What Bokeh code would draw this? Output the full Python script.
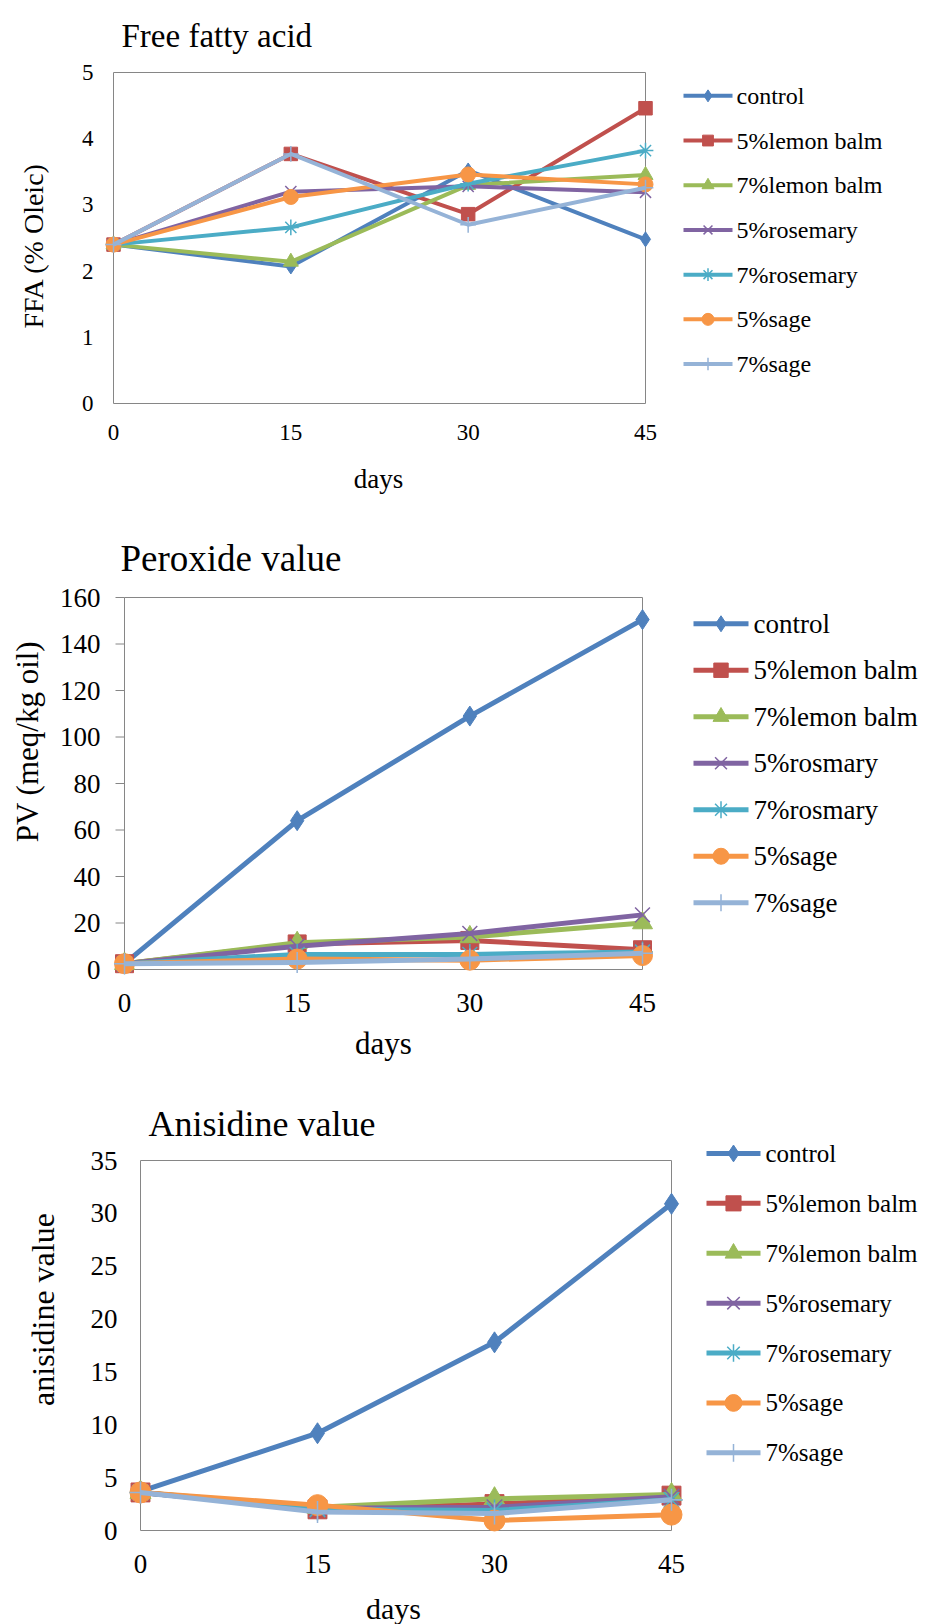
import math
from bokeh.plotting import figure
from bokeh.models import Range1d, Label
from bokeh.layouts import column
from bokeh.embed import file_html
from bokeh.resources import INLINE

# ---------------- data ----------------
days = [0, 15, 30, 45]
x_ticks = [0, 15, 30, 45]

names_ffa = ["control", "5%lemon balm", "7%lemon balm", "5%rosemary", "7%rosemary", "5%sage", "7%sage"]
names_pv = ["control", "5%lemon balm", "7%lemon balm", "5%rosmary", "7%rosmary", "5%sage", "7%sage"]
names_av = ["control", "5%lemon balm", "7%lemon balm", "5%rosemary", "7%rosemary", "5%sage", "7%sage"]

ffa_control = [2.40, 2.07, 3.52, 2.48]
ffa_lemon5 = [2.40, 3.77, 2.86, 4.46]
ffa_lemon7 = [2.40, 2.14, 3.30, 3.45]
ffa_rosemary5 = [2.40, 3.20, 3.28, 3.19]
ffa_rosemary7 = [2.40, 2.66, 3.32, 3.82]
ffa_sage5 = [2.40, 3.12, 3.46, 3.31]
ffa_sage7 = [2.40, 3.77, 2.70, 3.26]

pv_control = [2.5, 64, 109, 150.5]
pv_lemon5 = [2.5, 11, 12.5, 8.5]
pv_lemon7 = [2.5, 11.5, 14, 20]
pv_rosemary5 = [2.5, 10, 15.5, 23.5]
pv_rosemary7 = [2.5, 6.5, 6.5, 7.5]
pv_sage5 = [2.5, 4.5, 4, 6]
pv_sage7 = [2.5, 3, 4.5, 7]

av_control = [3.7, 9.2, 17.8, 30.9]
av_lemon5 = [3.6, 2.0, 2.5, 3.3]
av_lemon7 = [3.6, 2.2, 3.0, 3.4]
av_rosemary5 = [3.6, 2.1, 2.2, 3.2]
av_rosemary7 = [3.6, 2.0, 1.9, 2.9]
av_sage5 = [3.6, 2.4, 0.95, 1.5]
av_sage7 = [3.6, 1.75, 1.6, 2.9]

ffa_ticks = [0, 1, 2, 3, 4, 5]
pv_ticks = [0, 20, 40, 60, 80, 100, 120, 140, 160]
av_ticks = [0, 5, 10, 15, 20, 25, 30, 35]

colors = ["#4F81BD", "#C0504D", "#9BBB59", "#8064A2", "#4BACC6", "#F79646", "#95B3D7"]
markers = ["diamond", "square", "triangle", "x", "asterisk", "circle", "cross"]

FONT = "Liberation Serif"
W = 928


def draw_marker(p, xs, ys, m, c, size):
    if m in ("x", "asterisk", "cross"):
        return p.scatter(xs, ys, marker=m, size=size * 1.05, line_color=c,
                         line_width=1.5, fill_color=None)
    s = size * (0.9 if m == "square" else 1.0)
    return p.scatter(xs, ys, marker=m, size=s, fill_color=c, line_color=c, line_width=1)


def build(H, box, ymax, yticks, names, series, title, title_pos, title_size,
          ylab, ylab_pos, ylab_size, xlab_pos, xlab_size, tick_size,
          ylab_right, xlab_mid, leg, lw, msize, ytick_marks=False):
    L, R, T, B = box

    def dx(px):
        return (px - L) / (R - L) * 45

    def dy(py):
        return (B - py) / (B - T) * ymax

    p = figure(width=W, height=H, x_range=Range1d(dx(0), dx(W)), y_range=Range1d(dy(H), dy(0)),
               output_backend="svg", toolbar_location=None, min_border=0,
               x_axis_location=None, y_axis_location=None)
    p.outline_line_color = None
    p.grid.visible = False
    p.background_fill_color = "white"
    p.border_fill_color = "white"

    def txt(x, y, s, size, align="left", baseline="middle", angle=0.0):
        p.add_layout(Label(x=x, y=y, text=s, angle=angle, text_font=FONT,
                           text_font_size=f"{size}px", text_align=align,
                           text_baseline=baseline, text_color="black"))

    # plot-area box
    p.quad(left=[0], right=[45], bottom=[0], top=[ymax], fill_color=None,
           line_color="#868686", line_width=1)
    if ytick_marks:
        tl = 9 * 45 / (R - L)
        p.segment(x0=[-tl] * len(yticks), x1=[0] * len(yticks), y0=yticks, y1=yticks,
                  line_color="#868686", line_width=1)

    # tick labels
    for t in yticks:
        txt(dx(ylab_right), t, str(t), tick_size, align="right")
    for t in x_ticks:
        txt(t, dy(xlab_mid), str(t), tick_size, align="center")

    # series
    for vals, c, m in zip(series, colors, markers):
        p.line(days, vals, line_color=c, line_width=lw, line_join="round")
        draw_marker(p, days, vals, m, c, msize)

    # legend (sample line + marker + text)
    lx, ltop, row, gw, stand, lsize = leg
    for i, (name, c, m) in enumerate(zip(names, colors, markers)):
        yc = ltop + row * (i + 0.5)
        p.line([dx(lx), dx(lx + gw)], [dy(yc), dy(yc)], line_color=c, line_width=lw)
        draw_marker(p, [dx(lx + gw / 2)], [dy(yc)], m, c, msize * 0.8)
        txt(dx(lx + gw + stand), dy(yc), name, lsize)

    txt(dx(title_pos[0]), dy(title_pos[1]), title, title_size, baseline="alphabetic")
    txt(dx(ylab_pos[0]), dy(ylab_pos[1]), ylab, ylab_size, align="center", angle=math.pi / 2)
    txt(dx(xlab_pos[0]), dy(xlab_pos[1]), "days", xlab_size, align="center", baseline="alphabetic")
    return p


# Chart 1 : page y 0..510
p1 = build(H=510, box=(113, 645, 72, 403), ymax=5, yticks=ffa_ticks, names=names_ffa,
           series=[ffa_control, ffa_lemon5, ffa_lemon7, ffa_rosemary5, ffa_rosemary7, ffa_sage5, ffa_sage7],
           title="Free fatty acid", title_pos=(121, 35), title_size=33,
           ylab="FFA (% Oleic)", ylab_pos=(33, 245), ylab_size=28,
           xlab_pos=(378, 478), xlab_size=27, tick_size=23, ylab_right=93, xlab_mid=432,
           leg=(683, 73, 44.7, 49, 4, 24), lw=4, msize=15)

# Chart 2 : page y 510..1075
o2 = 510
p2 = build(H=565, box=(124, 642, 597 - o2, 969 - o2), ymax=160, yticks=pv_ticks, names=names_pv,
           series=[pv_control, pv_lemon5, pv_lemon7, pv_rosemary5, pv_rosemary7, pv_sage5, pv_sage7],
           title="Peroxide value", title_pos=(120, 558 - o2), title_size=37,
           ylab="PV (meq/kg oil)", ylab_pos=(27, 741 - o2), ylab_size=31,
           xlab_pos=(383, 1043 - o2), xlab_size=31, tick_size=27, ylab_right=100, xlab_mid=1002 - o2,
           leg=(693, 600 - o2, 46.5, 55, 5, 27), lw=5, msize=20, ytick_marks=True)

# Chart 3 : page y 1075..1624
o3 = 1075
p3 = build(H=549, box=(140, 671, 1160 - o3, 1530 - o3), ymax=35, yticks=av_ticks, names=names_av,
           series=[av_control, av_lemon5, av_lemon7, av_rosemary5, av_rosemary7, av_sage5, av_sage7],
           title="Anisidine  value", title_pos=(148, 1123 - o3), title_size=36,
           ylab="anisidine value", ylab_pos=(42, 1309 - o3), ylab_size=32,
           xlab_pos=(393, 1608 - o3), xlab_size=30, tick_size=27, ylab_right=117, xlab_mid=1563 - o3,
           leg=(706, 1128 - o3, 49.9, 54, 5, 25), lw=5, msize=21)

layout = column(p1, p2, p3, spacing=0)
open("out.html", "w").write(file_html(layout, INLINE))
